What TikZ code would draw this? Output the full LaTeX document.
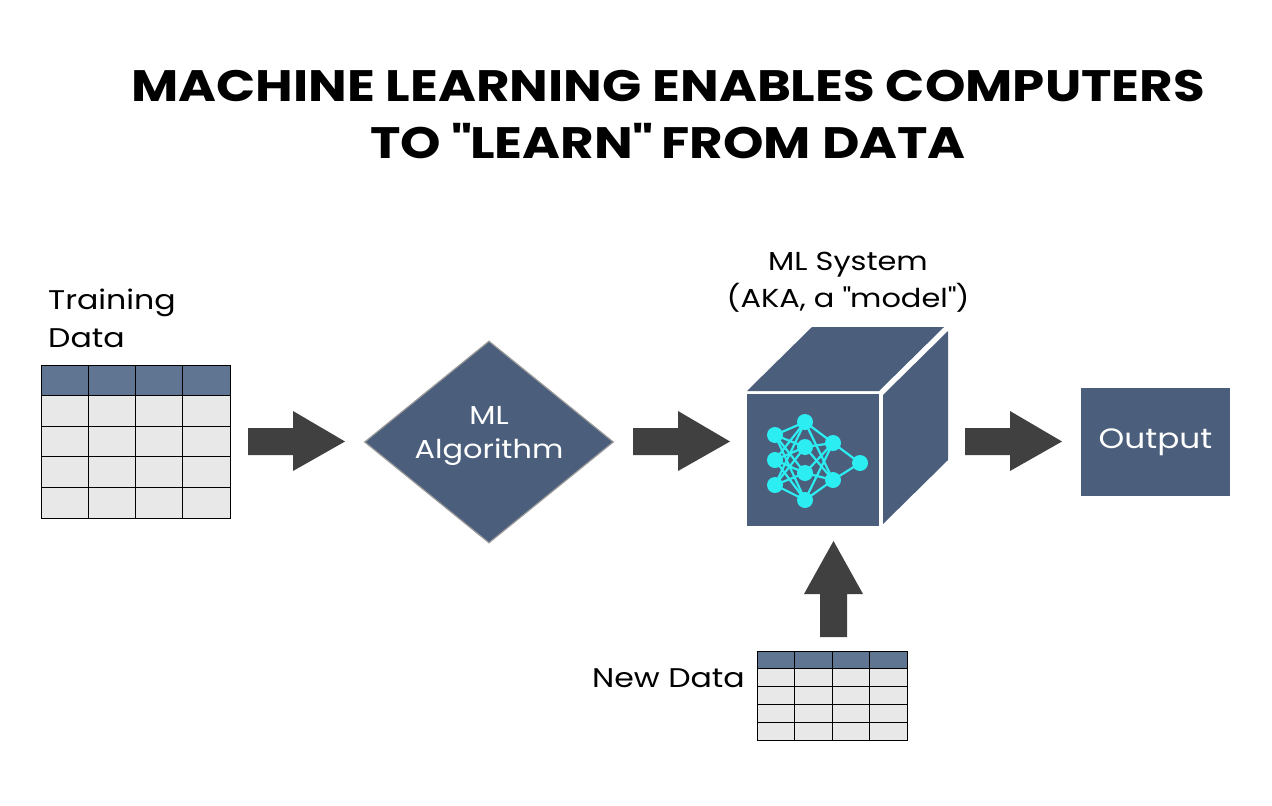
\documentclass[tikz,border=0pt]{standalone}
\usepackage{fontspec}
\setmainfont{Poppins}[FakeStretch=1.17]
\usetikzlibrary{shapes.geometric}
\definecolor{slate}{HTML}{4B5F7C}
\definecolor{hdr}{HTML}{5F7591}
\definecolor{cellc}{HTML}{E8E8E8}
\definecolor{arr}{HTML}{404040}
\definecolor{cyanN}{HTML}{2BEDF2}
\tikzset{
 lbl/.style={font=\fontsize{27}{32}\selectfont, inner sep=0, text=black},
 blk/.style={fill=arr, draw=none},
 nn/.style={circle, fill=cyanN, minimum size=16pt, inner sep=0},
 nl/.style={cyanN, line width=2.2pt},
 cellstyle/.style={draw=black, line width=0.8pt},
}
\newcommand{\mytable}[4]{% x0 y0 colw rowh
 \foreach \ri in {0,...,4}{\foreach \ci in {0,...,3}{
   \ifnum\ri=0 \path[fill=hdr,cellstyle] (#1+\ci*#3,#2+\ri*#4) rectangle ++(#3,#4);
   \else \path[fill=cellc,cellstyle] (#1+\ci*#3,#2+\ri*#4) rectangle ++(#3,#4);\fi}}
}
\begin{document}
\begin{tikzpicture}[x=1pt,y=-1pt]
\useasboundingbox[fill=white] (0,0) rectangle (1272,806);
\node[font=\fontsize{44}{57}\selectfont\bfseries, align=center] (title) at (668,114) {MACHINE LEARNING ENABLES COMPUTERS\\TO \textquotedbl LEARN\textquotedbl{} FROM DATA};
% training table
\mytable{41}{365}{47.25}{30.6}
\node[lbl, anchor=base west] (tl) at (48,309) {Training};
\node[lbl, anchor=base west] (tl2) at (48,347) {Data};
% arrows
\path[blk] (248,428) -- (293,428) -- (293,411) -- (345,441.5) -- (293,471) -- (293,455) -- (248,455) -- cycle;
\path[blk] (633,428) -- (678,428) -- (678,411) -- (730,441.5) -- (678,471) -- (678,455) -- (633,455) -- cycle;
\path[blk] (965,428) -- (1010,428) -- (1010,411) -- (1062,441.5) -- (1010,471) -- (1010,455) -- (965,455) -- cycle;
\path[blk] (820,637) -- (820,594) -- (804,594) -- (833.5,541) -- (863,594) -- (847,594) -- (847,637) -- cycle;
% diamond
\node[diamond, fill=slate, draw=gray!80, line width=1.2pt, minimum width=249pt, minimum height=202pt, inner sep=0] (alg) at (489,442) {};
\node[align=center, text=white, font=\fontsize{26}{34}\selectfont] (algt) at (489,436) {ML\\Algorithm};
% cube
\path[fill=slate] (747,391) -- (812,327) -- (944,327) -- (879,391) -- cycle;
\path[fill=slate] (883,395) -- (948,331) -- (948,460) -- (883,524) -- cycle;
\path[fill=slate] (747,394) rectangle (879,526);
\node[align=center, font=\fontsize{26}{37}\selectfont] (ms) at (848,282) {ML System\\(AKA, a \textquotedbl model\textquotedbl)};
% network
\foreach \n/\x/\y in {a1/775/435,a2/775/460,a3/775/485,b1/805/422,b2/805/447,b3/805/473,b4/805/500,c1/833/443,c2/833/480,d1/860/463}
  \coordinate (\n) at (\x,\y);
\foreach \a in {a1,a2,a3}{\foreach \b in {b1,b2,b3,b4}{\draw[nl] (\a)--(\b);}}
\foreach \a in {b1,b2,b3,b4}{\foreach \b in {c1,c2}{\draw[nl] (\a)--(\b);}}
\draw[nl] (c1)--(d1) (c2)--(d1);
\foreach \n in {a1,a2,a3,b1,b2,b3,b4,c1,c2,d1} \node[nn] at (\n) {};
% output
\node[fill=slate, minimum width=149pt, minimum height=108pt, text=white, font=\fontsize{28}{34}\selectfont] (out) at (1155.5,442) {Output};
% new data
\mytable{757}{651}{37.5}{17.8}
\node[lbl, anchor=base east] (ndl) at (745,687) {New Data};
\end{tikzpicture}
\end{document}
